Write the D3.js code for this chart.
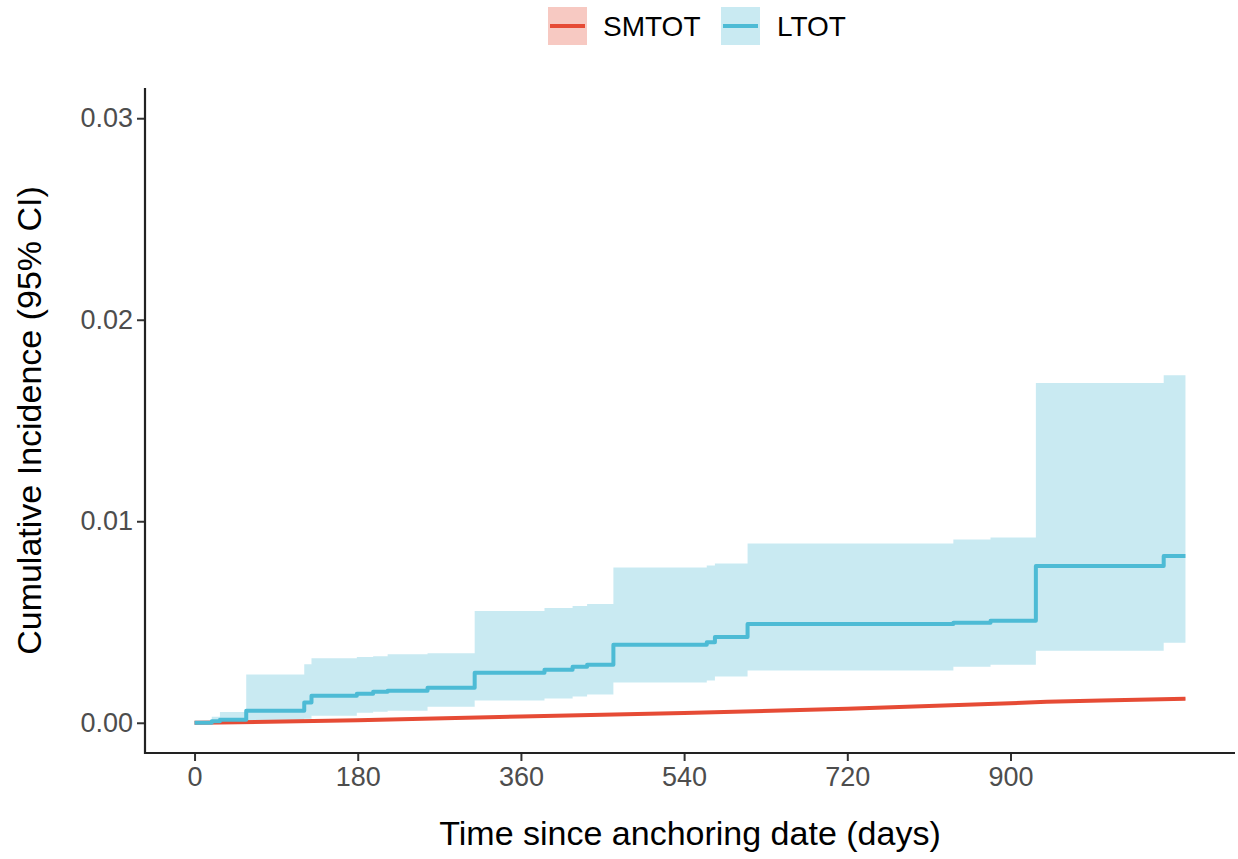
<!DOCTYPE html>
<html>
<head>
<meta charset="utf-8">
<script src="https://cdn.jsdelivr.net/npm/d3@7"></script>
<style>
  html, body { margin: 0; padding: 0; background: #fff; }
  svg { display: block; font-family: "Liberation Sans", Arial, Helvetica, sans-serif; }
</style>
</head>
<body>
<svg id="chart" width="1238" height="859"></svg>
<script>
// Cumulative incidence estimates (step functions) with 95% CI, by group
const groups = ["SMTOT", "LTOT"];
const groupColors = ["#E64B35", "#4DBBD5"];

const ltotDays  = [0, 19, 28, 57, 121, 129, 179, 197, 213, 257, 309, 386, 417, 433, 462, 565, 574, 610, 837, 878, 928, 1069, 1093];
const ltotEst   = [0, 0.00007, 0.00015, 0.0006, 0.0010, 0.00134, 0.00144, 0.00154, 0.00159, 0.00174, 0.00248, 0.00263, 0.00278, 0.00288, 0.00387, 0.0040, 0.00426, 0.0049, 0.00496, 0.00506, 0.00778, 0.00828, 0.00828];
const ltotLower = [0, 0, 0, 0.00005, 0.0002, 0.00035, 0.0005, 0.00055, 0.0006, 0.0008, 0.0011, 0.0012, 0.0013, 0.0014, 0.0020, 0.0021, 0.0023, 0.0026, 0.00278, 0.00288, 0.00357, 0.00397, 0.00397];
const ltotUpper = [0, 0.0003, 0.00054, 0.0024, 0.0029, 0.0032, 0.00327, 0.0033, 0.0034, 0.00345, 0.00555, 0.0057, 0.0058, 0.0059, 0.0077, 0.0078, 0.0079, 0.0089, 0.0091, 0.0092, 0.01686, 0.01725, 0.01725];

const smtotDays  = [0, 28, 180, 360, 540, 720, 900, 940, 1000, 1093];
const smtotEst   = [0, 0.00001, 0.00013, 0.00031, 0.00049, 0.00069, 0.00097, 0.00104, 0.00111, 0.00119];
const smtotLower = [0, 0, 0.0001, 0.00027, 0.00045, 0.00065, 0.00092, 0.00099, 0.00106, 0.00113];
const smtotUpper = [0, 0.00002, 0.00016, 0.00035, 0.00053, 0.00073, 0.00102, 0.00109, 0.00116, 0.00125];

const xTicks = [0, 180, 360, 540, 720, 900];
const yTicks = [0, 0.01, 0.02, 0.03];

const xTitle = "Time since anchoring date (days)";
const yTitle = "Cumulative Incidence (95% CI)";

// Layout
const panel = { left: 145, right: 1235, top: 88, bottom: 753 };

const xMax = 1093;
const xPad = xMax * 0.05;
const x = d3.scaleLinear().domain([-xPad, xMax + xPad]).range([panel.left, panel.right]);
const yPad = 0.03 * 0.05;
const y = d3.scaleLinear().domain([-yPad, 0.03 + yPad]).range([panel.bottom, panel.top]);

const svg = d3.select("#chart");

function rows(days, est, lo, hi) {
  return days.map((d, i) => ({ t: d, est: est[i], lo: lo[i], hi: hi[i] }));
}
const series = [
  rows(smtotDays, smtotEst, smtotLower, smtotUpper),
  rows(ltotDays, ltotEst, ltotLower, ltotUpper)
];

const stepArea = d3.area()
  .curve(d3.curveStepAfter)
  .x(d => x(d.t))
  .y0(d => y(d.lo))
  .y1(d => y(d.hi));

const smoothArea = d3.area()
  .x(d => x(d.t))
  .y0(d => y(d.lo))
  .y1(d => y(d.hi));

const stepLine = d3.line()
  .curve(d3.curveStepAfter)
  .x(d => x(d.t))
  .y(d => y(d.est));

const smoothLine = d3.line()
  .x(d => x(d.t))
  .y(d => y(d.est));

const plot = svg.append("g");

// Ribbons first, then the estimate lines on top
series.forEach((s, i) => {
  plot.append("path")
    .attr("d", i === 0 ? smoothArea(s) : stepArea(s))
    .attr("fill", groupColors[i])
    .attr("fill-opacity", 0.3);
});
series.forEach((s, i) => {
  plot.append("path")
    .attr("d", i === 0 ? smoothLine(s) : stepLine(s))
    .attr("fill", "none")
    .attr("stroke", groupColors[i])
    .attr("stroke-width", 4)
    .attr("stroke-linejoin", "round");
});

// Axes
const axisColor = "#222";
const xAxis = svg.append("g")
  .attr("transform", `translate(0,${panel.bottom})`)
  .call(d3.axisBottom(x).tickValues(xTicks).tickSize(8).tickPadding(6).tickFormat(d3.format("d")));
const yAxis = svg.append("g")
  .attr("transform", `translate(${panel.left},0)`)
  .call(d3.axisLeft(y).tickValues(yTicks).tickSize(8).tickPadding(4).tickFormat(d3.format(".2f")));

[xAxis, yAxis].forEach(g => {
  g.select(".domain").remove();
  g.selectAll(".tick line").attr("stroke", "#333").attr("stroke-width", 2);
  g.selectAll(".tick text")
    .attr("fill", "#4D4D4D")
    .style("font-size", "27px")
    .style("font-family", "'Liberation Sans', Arial, sans-serif");
});
xAxis.selectAll(".tick text").attr("dy", "0.72em");

// Axis lines spanning the full panel
svg.append("line")
  .attr("x1", panel.left).attr("x2", panel.right)
  .attr("y1", panel.bottom).attr("y2", panel.bottom)
  .attr("stroke", axisColor).attr("stroke-width", 2.2);
svg.append("line")
  .attr("x1", panel.left).attr("x2", panel.left)
  .attr("y1", panel.top).attr("y2", panel.bottom + 1.1)
  .attr("stroke", axisColor).attr("stroke-width", 2.2);

// Axis titles
svg.append("text")
  .attr("x", (panel.left + panel.right) / 2)
  .attr("y", 845)
  .attr("text-anchor", "middle")
  .attr("fill", "#000")
  .style("font-size", "34px")
  .text(xTitle);

svg.append("text")
  .attr("transform", `translate(41,${(panel.top + panel.bottom) / 2}) rotate(-90)`)
  .attr("text-anchor", "middle")
  .attr("fill", "#000")
  .style("font-size", "34px")
  .text(yTitle);

// Legend
const legendKeys = [
  { x: 548, textX: 603 },
  { x: 721, textX: 777 }
];
const legend = svg.append("g");
groups.forEach((name, i) => {
  const k = legendKeys[i];
  legend.append("rect")
    .attr("x", k.x).attr("y", 7)
    .attr("width", 39).attr("height", 38)
    .attr("fill", groupColors[i]).attr("fill-opacity", 0.3);
  legend.append("line")
    .attr("x1", k.x + 2).attr("x2", k.x + 37)
    .attr("y1", 26).attr("y2", 26)
    .attr("stroke", groupColors[i]).attr("stroke-width", 4);
  legend.append("text")
    .attr("x", k.textX).attr("y", 36)
    .attr("fill", "#000")
    .style("font-size", "28px")
    .text(name);
});
</script>
</body>
</html>
